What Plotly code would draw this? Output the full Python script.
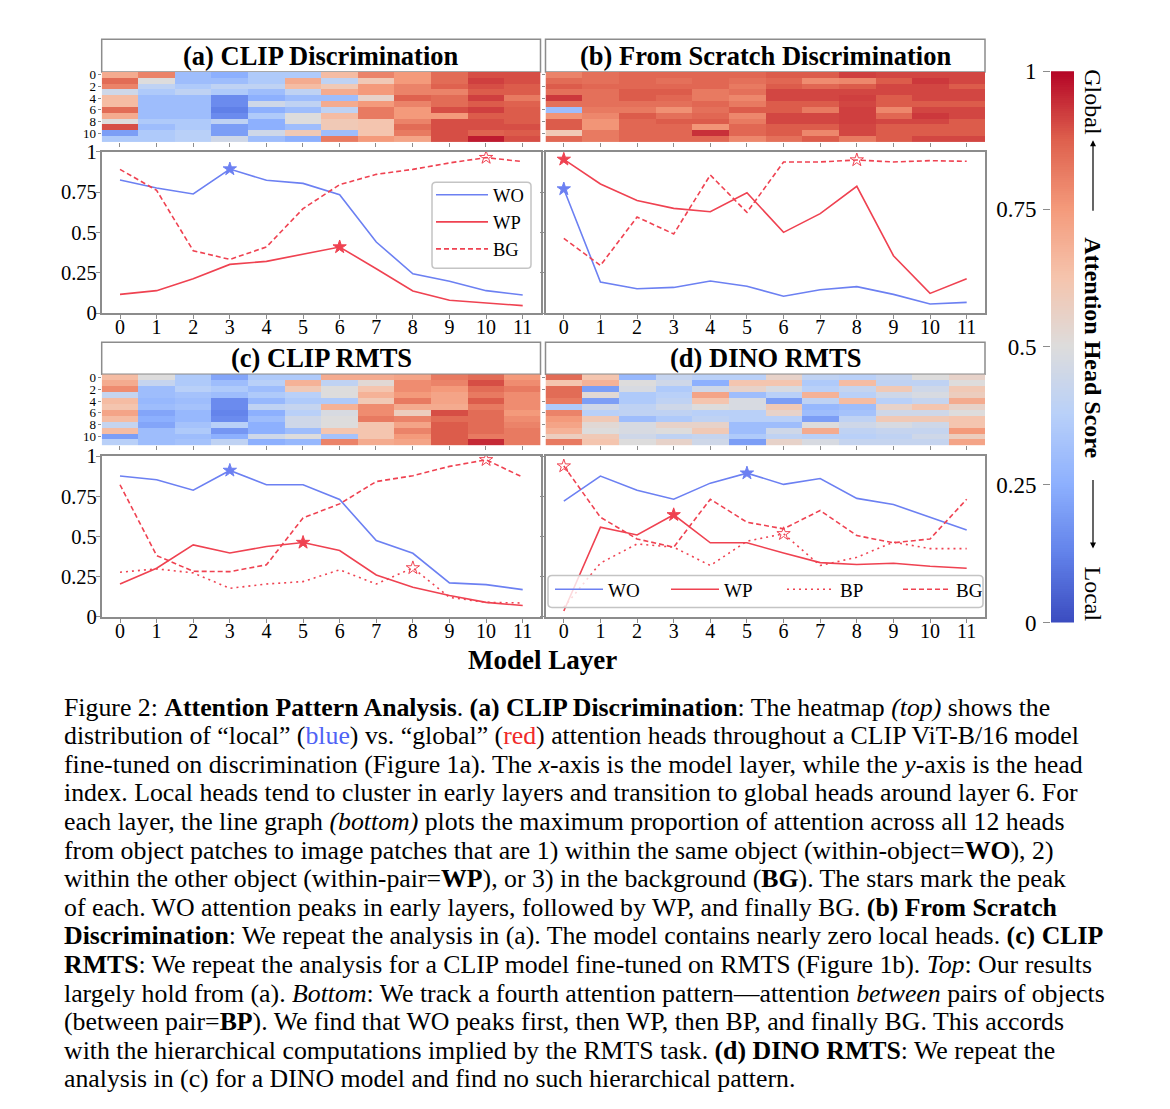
import numpy as np
import plotly.graph_objects as go

# Figure size and the mapping from reference-pixel positions to figure pixels
W, H = 1154, 1109
OFFX = 8          # page body margin (horizontal)
SY, OFFY = 0.977, 19.8  # observed vertical placement of the figure in the photograph

layers = list(range(12))
heads = list(range(12))
tick_layers = [str(i) for i in layers]

# ---------------- heatmap data: one inner list per layer (heads 0..11) ----------------
clip_disc_heat = [
    [0.70, 0.85, 0.80, 0.45, 0.65, 0.65, 0.85, 0.70, 0.50, 0.90, 0.20, 0.35],
    [0.80, 0.50, 0.40, 0.35, 0.30, 0.30, 0.30, 0.30, 0.35, 0.30, 0.35, 0.35],
    [0.30, 0.30, 0.35, 0.40, 0.30, 0.30, 0.30, 0.30, 0.35, 0.35, 0.38, 0.38],
    [0.25, 0.30, 0.40, 0.35, 0.15, 0.15, 0.12, 0.15, 0.40, 0.20, 0.20, 0.45],
    [0.35, 0.35, 0.40, 0.30, 0.25, 0.45, 0.25, 0.35, 0.25, 0.25, 0.45, 0.30],
    [0.35, 0.70, 0.65, 0.40, 0.30, 0.40, 0.30, 0.50, 0.50, 0.30, 0.60, 0.25],
    [0.65, 0.40, 0.60, 0.70, 0.30, 0.70, 0.40, 0.65, 0.60, 0.60, 0.30, 0.82],
    [0.80, 0.60, 0.75, 0.75, 0.55, 0.75, 0.82, 0.82, 0.62, 0.62, 0.62, 0.75],
    [0.75, 0.75, 0.80, 0.80, 0.87, 0.80, 0.75, 0.75, 0.80, 0.85, 0.82, 0.72],
    [0.85, 0.85, 0.87, 0.80, 0.85, 0.85, 0.90, 0.75, 0.90, 0.90, 0.90, 0.90],
    [0.90, 0.92, 0.90, 0.88, 0.92, 0.88, 0.92, 0.88, 0.90, 0.90, 0.87, 0.97],
    [0.90, 0.90, 0.88, 0.88, 0.82, 0.87, 0.88, 0.88, 0.88, 0.90, 0.88, 0.90],
]
scratch_disc_heat = [
    [0.80, 0.85, 0.88, 0.84, 0.93, 0.84, 0.30, 0.76, 0.88, 0.88, 0.60, 0.86],
    [0.84, 0.84, 0.86, 0.84, 0.84, 0.84, 0.82, 0.79, 0.76, 0.76, 0.82, 0.82],
    [0.86, 0.86, 0.86, 0.88, 0.88, 0.84, 0.82, 0.88, 0.86, 0.86, 0.86, 0.86],
    [0.86, 0.84, 0.86, 0.88, 0.86, 0.84, 0.77, 0.84, 0.88, 0.86, 0.86, 0.86],
    [0.86, 0.86, 0.86, 0.82, 0.82, 0.86, 0.84, 0.86, 0.88, 0.76, 0.94, 0.86],
    [0.86, 0.84, 0.82, 0.84, 0.79, 0.82, 0.88, 0.79, 0.82, 0.86, 0.86, 0.79],
    [0.88, 0.86, 0.88, 0.91, 0.91, 0.88, 0.88, 0.91, 0.91, 0.88, 0.88, 0.84],
    [0.88, 0.78, 0.86, 0.91, 0.91, 0.88, 0.82, 0.91, 0.91, 0.88, 0.79, 0.88],
    [0.92, 0.79, 0.88, 0.91, 0.92, 0.91, 0.92, 0.92, 0.92, 0.91, 0.91, 0.82],
    [0.91, 0.88, 0.91, 0.91, 0.88, 0.88, 0.79, 0.86, 0.91, 0.88, 0.88, 0.88],
    [0.91, 0.93, 0.91, 0.91, 0.91, 0.88, 0.91, 0.93, 0.91, 0.88, 0.88, 0.91],
    [0.91, 0.91, 0.88, 0.91, 0.91, 0.88, 0.91, 0.91, 0.88, 0.88, 0.88, 0.91],
]
clip_rmts_heat = [
    [0.65, 0.70, 0.78, 0.42, 0.65, 0.62, 0.72, 0.65, 0.42, 0.65, 0.20, 0.38],
    [0.50, 0.42, 0.30, 0.30, 0.28, 0.30, 0.22, 0.25, 0.22, 0.30, 0.30, 0.30],
    [0.35, 0.35, 0.38, 0.32, 0.30, 0.32, 0.28, 0.28, 0.32, 0.35, 0.30, 0.32],
    [0.22, 0.30, 0.35, 0.30, 0.15, 0.15, 0.13, 0.15, 0.38, 0.18, 0.25, 0.40],
    [0.35, 0.38, 0.30, 0.35, 0.28, 0.40, 0.25, 0.30, 0.25, 0.25, 0.45, 0.25],
    [0.35, 0.68, 0.60, 0.38, 0.35, 0.42, 0.38, 0.45, 0.45, 0.30, 0.50, 0.28],
    [0.70, 0.40, 0.50, 0.50, 0.35, 0.68, 0.48, 0.50, 0.50, 0.62, 0.32, 0.80],
    [0.70, 0.52, 0.62, 0.68, 0.60, 0.78, 0.78, 0.82, 0.62, 0.62, 0.62, 0.70],
    [0.72, 0.78, 0.78, 0.75, 0.82, 0.70, 0.58, 0.80, 0.72, 0.80, 0.75, 0.72],
    [0.82, 0.80, 0.75, 0.72, 0.72, 0.70, 0.90, 0.85, 0.88, 0.88, 0.88, 0.88],
    [0.85, 0.90, 0.85, 0.82, 0.88, 0.82, 0.85, 0.85, 0.85, 0.85, 0.82, 0.95],
    [0.75, 0.78, 0.82, 0.78, 0.78, 0.78, 0.75, 0.78, 0.80, 0.82, 0.82, 0.82],
]
dino_rmts_heat = [
    [0.85, 0.62, 0.85, 0.85, 0.82, 0.35, 0.80, 0.75, 0.72, 0.68, 0.58, 0.82],
    [0.62, 0.68, 0.20, 0.52, 0.20, 0.45, 0.38, 0.60, 0.52, 0.50, 0.60, 0.62],
    [0.28, 0.50, 0.48, 0.35, 0.35, 0.40, 0.40, 0.30, 0.48, 0.48, 0.45, 0.50],
    [0.42, 0.45, 0.35, 0.38, 0.40, 0.45, 0.40, 0.35, 0.55, 0.50, 0.40, 0.55],
    [0.38, 0.25, 0.45, 0.72, 0.62, 0.50, 0.38, 0.40, 0.55, 0.60, 0.42, 0.45],
    [0.38, 0.62, 0.55, 0.30, 0.48, 0.48, 0.38, 0.38, 0.30, 0.30, 0.35, 0.20],
    [0.55, 0.62, 0.48, 0.38, 0.20, 0.60, 0.55, 0.38, 0.30, 0.45, 0.40, 0.55],
    [0.40, 0.35, 0.38, 0.68, 0.40, 0.28, 0.30, 0.20, 0.50, 0.70, 0.38, 0.48],
    [0.38, 0.65, 0.42, 0.38, 0.65, 0.30, 0.32, 0.40, 0.45, 0.40, 0.38, 0.42],
    [0.42, 0.40, 0.60, 0.45, 0.38, 0.55, 0.45, 0.60, 0.48, 0.42, 0.40, 0.42],
    [0.50, 0.40, 0.45, 0.48, 0.42, 0.62, 0.45, 0.60, 0.45, 0.42, 0.45, 0.42],
    [0.55, 0.50, 0.60, 0.58, 0.70, 0.55, 0.50, 0.62, 0.62, 0.75, 0.58, 0.72],
]

# ---------------- line data ----------------
a_wo = [0.826, 0.776, 0.739, 0.894, 0.824, 0.805, 0.735, 0.441, 0.244, 0.197, 0.139, 0.112]
a_wp = [0.116, 0.139, 0.213, 0.302, 0.321, 0.366, 0.410, 0.275, 0.137, 0.079, 0.064, 0.046]
a_bg = [0.892, 0.762, 0.387, 0.333, 0.410, 0.648, 0.797, 0.861, 0.892, 0.932, 0.965, 0.940]

b_wo = [0.770, 0.193, 0.151, 0.159, 0.199, 0.166, 0.104, 0.145, 0.164, 0.116, 0.056, 0.066]
b_wp = [0.954, 0.801, 0.698, 0.650, 0.629, 0.747, 0.501, 0.617, 0.787, 0.356, 0.122, 0.213]
b_bg = [0.464, 0.296, 0.596, 0.491, 0.857, 0.625, 0.938, 0.938, 0.950, 0.938, 0.946, 0.942]

c_wo = [0.876, 0.853, 0.788, 0.911, 0.822, 0.822, 0.730, 0.475, 0.396, 0.212, 0.201, 0.170]
c_wp = [0.205, 0.303, 0.448, 0.398, 0.438, 0.463, 0.413, 0.261, 0.185, 0.133, 0.091, 0.071]
c_bp = [0.278, 0.299, 0.274, 0.178, 0.205, 0.220, 0.293, 0.205, 0.305, 0.122, 0.091, 0.087]
c_bg = [0.822, 0.382, 0.284, 0.282, 0.324, 0.616, 0.703, 0.842, 0.878, 0.936, 0.977, 0.869]

d_wo = [0.720, 0.876, 0.788, 0.732, 0.832, 0.894, 0.824, 0.861, 0.737, 0.699, 0.620, 0.541]
d_wp = [0.037, 0.558, 0.510, 0.635, 0.461, 0.461, 0.398, 0.338, 0.326, 0.334, 0.315, 0.303]
d_bp = [0.060, 0.335, 0.454, 0.434, 0.320, 0.471, 0.517, 0.320, 0.371, 0.465, 0.425, 0.425]
d_bg = [0.938, 0.620, 0.485, 0.434, 0.732, 0.589, 0.548, 0.662, 0.506, 0.461, 0.485, 0.732]

line_ticks = [0, 0.25, 0.5, 0.75, 1]
line_ticktext = ["0", "0.25", "0.5", "0.75", "1"]
head_ticks = [0, 2, 4, 6, 8, 10]
cbar_ticks = [0, 0.25, 0.5, 0.75, 1]
cbar_ticktext = ["0", "0.25", "0.5", "0.75", "1"]
cbar_levels = np.linspace(0, 1, 256)  # gradient for the colour scale bar

panel_titles = ["(a) CLIP Discrimination", "(b) From Scratch Discrimination",
                "(c) CLIP RMTS", "(d) DINO RMTS"]

# ---------------- style ----------------
FONT = "Liberation Serif"
BLUE = "#6c80f2"
RED = "#ef4251"
GREY = "#8c8c8c"
coolwarm = [
    [0.0, "rgb(59,76,192)"], [0.125, "rgb(98,130,234)"], [0.25, "rgb(141,176,254)"],
    [0.375, "rgb(184,208,249)"], [0.5, "rgb(221,220,220)"], [0.625, "rgb(245,196,173)"],
    [0.75, "rgb(244,154,123)"], [0.875, "rgb(222,96,77)"], [1.0, "rgb(180,4,38)"],
]


def px(x):
    return (x - OFFX) / W


def py(y):
    return 1 - ((y - OFFY) / SY) / H


def dx(l, r):
    return [px(l), px(r)]


def dy(t, b):
    return [py(b), py(t)]


def rounded_box(l, t, r, b, rad=4):
    x0, x1 = px(l), px(r)
    y0, y1 = py(b), py(t)
    rx, ry = rad / W, rad / H
    return (f"M {x0+rx},{y0} L {x1-rx},{y0} Q {x1},{y0} {x1},{y0+ry} L {x1},{y1-ry} "
            f"Q {x1},{y1} {x1-rx},{y1} L {x0+rx},{y1} Q {x0},{y1} {x0},{y1-ry} "
            f"L {x0},{y0+ry} Q {x0},{y0} {x0+rx},{y0} Z")


fig = go.Figure()

# panel geometry (reference pixels)
colL = (101.7, 540.5)
colR = (545.5, 985.0)
heat_rows = [(71.7, 141.7), (374.0, 445.0)]
line_rows = [(151.7, 312.7), (455.7, 616.5)]
title_rows = [(39.0, 71.7), (342.0, 374.0)]

heats = [clip_disc_heat, scratch_disc_heat, clip_rmts_heat, dino_rmts_heat]
heat_axes = [1, 2, 5, 6]
line_axes = [3, 4, 7, 8]
layout_axes = {}

for k, hm in enumerate(heats):
    ax = heat_axes[k]
    row, col = divmod(k, 2)
    xs = colL if col == 0 else colR
    z = np.array(hm).T  # rows = heads, cols = layers
    fig.add_trace(go.Heatmap(z=z, x=layers, y=heads, colorscale=coolwarm, zmin=0, zmax=1,
                             showscale=False, xaxis=f"x{ax}", yaxis=f"y{ax}", hoverinfo="skip"))
    layout_axes[f"xaxis{ax}"] = dict(domain=dx(*xs), anchor=f"y{ax}", range=[-0.5, 11.5],
                                    tickvals=layers, showticklabels=False, ticks="outside",
                                    ticklen=4, tickcolor=GREY, showgrid=False, zeroline=False,
                                    showline=False)
    layout_axes[f"yaxis{ax}"] = dict(domain=dy(*heat_rows[row]), anchor=f"x{ax}",
                                    range=[11.5, -0.5], tickvals=head_ticks,
                                    showticklabels=(col == 0), ticks="outside", ticklen=3,
                                    tickcolor=GREY, showgrid=False, zeroline=False,
                                    showline=False, ticklabelstandoff=-1,
                                    tickfont=dict(size=13, family=FONT))

line_sets = [
    [("WO", a_wo, BLUE, "solid", True), ("WP", a_wp, RED, "solid", True), ("BG", a_bg, RED, "5px,3px", False)],
    [("WO", b_wo, BLUE, "solid", True), ("WP", b_wp, RED, "solid", True), ("BG", b_bg, RED, "5px,3px", False)],
    [("WO", c_wo, BLUE, "solid", True), ("WP", c_wp, RED, "solid", True), ("BP", c_bp, RED, "2px,4px", False),
     ("BG", c_bg, RED, "5px,3px", False)],
    [("WO", d_wo, BLUE, "solid", True), ("WP", d_wp, RED, "solid", True), ("BP", d_bp, RED, "2px,4px", False),
     ("BG", d_bg, RED, "5px,3px", False)],
]
legend_for = {0: "legend", 3: "legend2"}

for k, series in enumerate(line_sets):
    ax = line_axes[k]
    row, col = divmod(k, 2)
    xs = colL if col == 0 else colR
    xs = (xs[0], xs[1] + (0.5 if col == 0 else 0))
    for name, vals, color, dash, filled in series:
        fig.add_trace(go.Scatter(x=layers, y=vals, mode="lines", name=name,
                                 line=dict(color=color, width=1.6, dash=dash),
                                 showlegend=(k in legend_for),
                                 legend=legend_for.get(k, "legend"),
                                 xaxis=f"x{ax}", yaxis=f"y{ax}", hoverinfo="skip"))
        i = int(np.argmax(vals))
        fig.add_trace(go.Scatter(x=[layers[i]], y=[vals[i]], mode="markers", showlegend=False,
                                 marker=dict(symbol="star" if filled else "star-open", size=10,
                                             color=color, line=dict(color=color, width=1)),
                                 xaxis=f"x{ax}", yaxis=f"y{ax}", hoverinfo="skip"))
    layout_axes[f"xaxis{ax}"] = dict(domain=dx(*xs), anchor=f"y{ax}", range=[-0.5, 11.5],
                                    tickvals=layers, ticktext=tick_layers, ticks="outside",
                                    ticklen=4, tickcolor=GREY, showgrid=False, zeroline=False,
                                    showline=True, mirror=True, linecolor=GREY, linewidth=1.5,
                                    ticklabelstandoff=-9,
                                    tickfont=dict(size=20, family=FONT))
    layout_axes[f"yaxis{ax}"] = dict(domain=dy(*line_rows[row]), anchor=f"x{ax}",
                                    range=[0, 1], tickvals=line_ticks, ticktext=line_ticktext,
                                    showticklabels=(col == 0), ticks="outside", ticklen=4,
                                    tickcolor=GREY, showgrid=False, zeroline=False,
                                    showline=True, mirror=True, linecolor=GREY, linewidth=1.5,
                                    ticklabelstandoff=-5,
                                    tickfont=dict(size=20.5, family=FONT))

# colour scale bar
fig.add_trace(go.Heatmap(z=[[v] for v in cbar_levels], y=cbar_levels, x=[0],
                         colorscale=coolwarm, zmin=0, zmax=1, showscale=False,
                         xaxis="x9", yaxis="y9", hoverinfo="skip"))
layout_axes["xaxis9"] = dict(domain=dx(1051, 1074), anchor="y9", visible=False, range=[-0.5, 0.5])
layout_axes["yaxis9"] = dict(domain=dy(71, 622), anchor="x9", range=[0, 1], side="left",
                             tickvals=cbar_ticks, ticktext=cbar_ticktext, ticks="outside",
                             ticklen=7, tickcolor=GREY, showgrid=False, zeroline=False,
                             showline=False, ticklabelstandoff=2,
                             tickfont=dict(size=23, family=FONT))

shapes = []
annotations = []
for k, title in enumerate(panel_titles):
    row, col = divmod(k, 2)
    xs = colL if col == 0 else colR
    t, b = title_rows[row]
    shapes.append(dict(type="rect", xref="paper", yref="paper", x0=px(xs[0]), x1=px(xs[1]),
                       y0=py(b), y1=py(t), line=dict(color=GREY, width=1.5),
                       fillcolor="white", layer="below"))
    annotations.append(dict(text=f"<b>{title}</b>", x=px((xs[0] + xs[1]) / 2), y=py((t + b) / 2),
                            xref="paper", yref="paper", showarrow=False,
                            font=dict(size=26.5, family=FONT, color="black"),
                            xanchor="center", yanchor="middle"))

# legend frames (semi-transparent, rounded like the reference)
for box in [(432, 182, 531, 268), (548, 575, 983, 607)]:
    shapes.append(dict(type="path", xref="paper", yref="paper", path=rounded_box(*box),
                       line=dict(color="#c4c4c4", width=1.5), fillcolor="rgba(255,255,255,0.8)",
                       layer="above"))

annotations.append(dict(text="<b>Model Layer</b>", x=px(542), y=py(660), xref="paper", yref="paper",
                        showarrow=False, font=dict(size=27, family=FONT, color="black"),
                        xanchor="center", yanchor="middle"))

# colour bar title pieces
cbx = px(1093)
for txt, yc, bold in [("Global", 102, False), ("Attention Head Score", 347, True), ("Local", 593, False)]:
    annotations.append(dict(text=f"<b>{txt}</b>" if bold else txt, x=cbx, y=py(yc),
                            xref="paper", yref="paper", showarrow=False, textangle=90,
                            font=dict(size=24, family=FONT, color="black"),
                            xanchor="center", yanchor="middle"))
annotations.append(dict(text="", x=cbx, y=py(140), xref="paper", yref="paper", showarrow=True,
                        ax=0, ay=72, arrowhead=2, arrowsize=1, arrowwidth=1.2, arrowcolor="black"))
annotations.append(dict(text="", x=cbx, y=py(548), xref="paper", yref="paper", showarrow=True,
                        ax=0, ay=-70, arrowhead=2, arrowsize=1, arrowwidth=1.2, arrowcolor="black"))

caption_lines = [
    "Figure 2: <b>Attention Pattern Analysis</b>. <b>(a) CLIP Discrimination</b>: The heatmap <i>(top)</i> shows the",
    "distribution of “local” (<span style='color:#4f63f5'>blue</span>) vs. “global” (<span style='color:#f02a2a'>red</span>) attention heads throughout a CLIP ViT-B/16 model",
    "fine-tuned on discrimination (Figure 1a). The <i>x</i>-axis is the model layer, while the <i>y</i>-axis is the head",
    "index. Local heads tend to cluster in early layers and transition to global heads around layer 6. For",
    "each layer, the line graph <i>(bottom)</i> plots the maximum proportion of attention across all 12 heads",
    "from object patches to image patches that are 1) within the same object (within-object=<b>WO</b>), 2)",
    "within the other object (within-pair=<b>WP</b>), or 3) in the background (<b>BG</b>). The stars mark the peak",
    "of each. WO attention peaks in early layers, followed by WP, and finally BG. <b>(b) From Scratch</b>",
    "<b>Discrimination</b>: We repeat the analysis in (a). The model contains nearly zero local heads. <b>(c) CLIP</b>",
    "<b>RMTS</b>: We repeat the analysis for a CLIP model fine-tuned on RMTS (Figure 1b). <i>Top</i>: Our results",
    "largely hold from (a). <i>Bottom</i>: We track a fourth attention pattern—attention <i>between</i> pairs of objects",
    "(between pair=<b>BP</b>). We find that WO peaks first, then WP, then BP, and finally BG. This accords",
    "with the hierarchical computations implied by the RMTS task. <b>(d) DINO RMTS</b>: We repeat the",
    "analysis in (c) for a DINO model and find no such hierarchical pattern.",
]
for i, line in enumerate(caption_lines):
    annotations.append(dict(text=line, x=px(62), y=py(706.5 + 28.6 * i), xref="paper", yref="paper",
                            showarrow=False, font=dict(size=25.8, family=FONT, color="black"),
                            xanchor="left", yanchor="middle", align="left"))

fig.update_layout(
    width=W, height=H, margin=dict(l=0, r=0, t=0, b=0),
    paper_bgcolor="white", plot_bgcolor="white",
    font=dict(family=FONT, color="black"),
    shapes=shapes, annotations=annotations,
    legend=dict(x=px(431), y=py(176), xanchor="left", yanchor="top", bgcolor="rgba(0,0,0,0)",
                borderwidth=0, font=dict(size=18.5, family=FONT),
                itemwidth=52, tracegroupgap=0),
    legend2=dict(orientation="h", x=px(550), y=py(570), xanchor="left", yanchor="top",
                 bgcolor="rgba(0,0,0,0)", borderwidth=0,
                 font=dict(size=19, family=FONT), itemwidth=48, entrywidth=53,
                 entrywidthmode="pixels"),
    **layout_axes,
)

fig.write_html("out.html")
